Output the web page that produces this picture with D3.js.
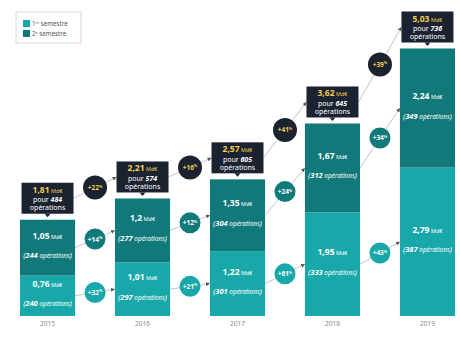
<!DOCTYPE html>
<html>
<head>
<meta charset="utf-8">
<script src="https://cdn.jsdelivr.net/npm/d3@7"></script>
<style>
  body { margin: 0; background: #fff; }
  svg { display: block; font-family: "Noto Sans", "Open Sans", sans-serif; }
</style>
</head>
<body>
<div id="chart-area"></div>
<script>
var years = ["2015", "2016", "2017", "2018", "2019"];
var sem1 = [0.76, 1.01, 1.22, 1.95, 2.79];
var sem2 = [1.05, 1.2, 1.35, 1.67, 2.24];
var totals = [1.81, 2.21, 2.57, 3.62, 5.03];
var ops1 = [240, 297, 301, 333, 387];
var ops2 = [244, 277, 304, 312, 349];
var opsTotal = [484, 574, 605, 645, 736];
var growthTotal = ["+22", "+16", "+41", "+39"];
var growth2 = ["+14", "+12", "+24", "+34"];
var growth1 = ["+32", "+21", "+61", "+43"];

var width = 460, height = 341;
var light = "#19a8a9", dark = "#12797b", navy = "#1b2230", gold = "#f2cd55";

var svg = d3.select("#chart-area")
    .append("svg")
        .attr("width", width)
        .attr("height", height);

svg.append("defs").append("marker")
    .attr("id", "arrow")
    .attr("viewBox", "0 0 10 10")
    .attr("refX", 10).attr("refY", 5)
    .attr("markerWidth", 5).attr("markerHeight", 5)
    .attr("orient", "auto")
  .append("path")
    .attr("d", "M0,0L10,5L0,10z")
    .attr("fill", "#555");

var x = d3.scaleBand()
    .domain(years)
    .range([20, 455])
    .paddingInner(0.42)
    .paddingOuter(0);

var y = d3.scaleLinear()
    .domain([0, 5.03])
    .range([316, 48.5]);

var bw = x.bandwidth();

var fmt = function(v) { return String(v).replace(".", ","); };

var rows = years.map(function(yr, i) {
    return { year: yr, s1: sem1[i], s2: sem2[i], total: totals[i],
             o1: ops1[i], o2: ops2[i], ot: opsTotal[i] };
});

// connectors (drawn first, under the circles)
var boxH = 31, boxW = 52;
function boxMid(d) { return y(d.total) - 6 - boxH / 2; }
function mid1(d) { return (y(0) + y(d.s1)) / 2; }
function mid2(d) { return (y(d.s1) + y(d.s1 + d.s2)) / 2; }

var links = [];
for (var i = 0; i < rows.length - 1; i++) {
    var a = rows[i], b = rows[i + 1];
    var cx = x(a.year) + bw / 2, nx = x(b.year) + bw / 2;
    links.push({ x1: cx + boxW / 2, y1: boxMid(a), x2: nx - boxW / 2, y2: boxMid(b),
                 label: growthTotal[i], fill: navy, r: 12, color: gold });
    links.push({ x1: x(a.year) + bw, y1: mid2(a), x2: x(b.year), y2: mid2(b),
                 label: growth2[i], fill: dark, r: 10.5, color: "#fff" });
    links.push({ x1: x(a.year) + bw, y1: mid1(a), x2: x(b.year), y2: mid1(b),
                 label: growth1[i], fill: light, r: 10.5, color: "#fff" });
}

svg.selectAll(".link")
    .data(links)
    .enter().append("line")
        .attr("class", "link")
        .attr("x1", function(d) { return d.x1; })
        .attr("y1", function(d) { return d.y1; })
        .attr("x2", function(d) { return d.x2; })
        .attr("y2", function(d) { return d.y2; })
        .attr("stroke", "#b5b5b5")
        .attr("stroke-width", 0.8)
        .attr("marker-end", "url(#arrow)");

var bubble = svg.selectAll(".bubble")
    .data(links)
    .enter().append("g")
        .attr("class", "bubble")
        .attr("transform", function(d) {
            return "translate(" + (d.x1 + d.x2) / 2 + "," + (d.y1 + d.y2) / 2 + ")";
        });

bubble.append("circle")
    .attr("r", function(d) { return d.r; })
    .attr("fill", function(d) { return d.fill; });

var bt = bubble.append("text")
    .attr("text-anchor", "middle")
    .attr("y", 2.5)
    .attr("fill", function(d) { return d.color; })
    .attr("font-size", "6.5px")
    .attr("font-weight", "bold");
bt.append("tspan").text(function(d) { return d.label; });
bt.append("tspan").attr("font-size", "3.8px").attr("dy", -2.5).text("%");

// bars
var bars = svg.selectAll(".bar")
    .data(rows)
    .enter().append("g")
        .attr("class", "bar");

bars.append("rect")
    .attr("x", function(d) { return x(d.year); })
    .attr("y", function(d) { return y(d.s1); })
    .attr("width", bw)
    .attr("height", function(d) { return y(0) - y(d.s1); })
    .attr("fill", light);

bars.append("rect")
    .attr("x", function(d) { return x(d.year); })
    .attr("y", function(d) { return y(d.s1 + d.s2); })
    .attr("width", bw)
    .attr("height", function(d) { return y(d.s1) - y(d.s1 + d.s2); })
    .attr("fill", dark);

function segLabels(midFn, valKey, opsKey) {
    var t = bars.append("text")
        .attr("text-anchor", "middle")
        .attr("x", function(d) { return x(d.year) + bw / 2; })
        .attr("y", function(d) { return midFn(d) - 9; })
        .attr("fill", "#fff")
        .attr("font-weight", "bold");
    t.append("tspan").attr("font-size", "8.5px").text(function(d) { return fmt(d[valKey]); });
    t.append("tspan").attr("font-size", "5.5px").attr("font-weight", "normal").text(" Md€");

    var o = bars.append("text")
        .attr("text-anchor", "middle")
        .attr("x", function(d) { return x(d.year) + bw / 2; })
        .attr("y", function(d) { return midFn(d) + 10.5; })
        .attr("fill", "#fff")
        .attr("font-style", "italic");
    o.append("tspan").attr("font-size", "7.5px").text("(");
    o.append("tspan").attr("font-size", "7.5px").attr("font-weight", "bold").text(function(d) { return d[opsKey]; });
    o.append("tspan").attr("font-size", "6.4px").text(" opérations");
    o.append("tspan").attr("font-size", "7.5px").text(")");
}
segLabels(mid2, "s2", "o2");
segLabels(mid1, "s1", "o1");

// total callouts
var box = bars.append("g")
    .attr("transform", function(d) {
        return "translate(" + (x(d.year) + bw / 2) + "," + (y(d.total) - 6 - boxH) + ")";
    });

box.append("rect")
    .attr("x", -boxW / 2)
    .attr("width", boxW)
    .attr("height", boxH)
    .attr("fill", navy);

box.append("path")
    .attr("d", "M-3," + boxH + "L3," + boxH + "L0," + (boxH + 3.5) + "Z")
    .attr("fill", navy);

var l1 = box.append("text")
    .attr("text-anchor", "middle")
    .attr("y", 10)
    .attr("fill", gold)
    .attr("font-weight", "bold");
l1.append("tspan").attr("font-size", "8.5px").text(function(d) { return fmt(d.total); });
l1.append("tspan").attr("font-size", "5.5px").attr("font-weight", "normal").text(" Md€");

var l2 = box.append("text")
    .attr("text-anchor", "middle")
    .attr("y", 19.5)
    .attr("fill", "#fff")
    .attr("font-size", "7px");
l2.append("tspan").text("pour ");
l2.append("tspan").attr("font-weight", "bold").attr("font-style", "italic").text(function(d) { return d.ot; });

box.append("text")
    .attr("text-anchor", "middle")
    .attr("y", 27.5)
    .attr("fill", "#fff")
    .attr("font-size", "7px")
    .text("opérations");

// x axis labels
var xAxisCall = d3.axisBottom(x).tickSize(0).tickPadding(5);
var xAxis = svg.append("g")
    .attr("transform", "translate(0," + y(0) + ")")
    .call(xAxisCall);
xAxis.select(".domain").remove();
xAxis.selectAll("text")
    .attr("fill", "#888")
    .attr("font-size", "6.5px")
    .attr("font-family", "'Noto Sans', sans-serif");

// legend
var legend = svg.append("g");
legend.append("rect")
    .attr("x", 16).attr("y", 12)
    .attr("width", 65).attr("height", 31)
    .attr("fill", "#fff")
    .attr("stroke", "#c8c8c8")
    .attr("stroke-width", 0.7);

var legItems = [
    { color: light, n: "1", sup: "er" },
    { color: dark, n: "2", sup: "e" }
];
var li = legend.selectAll(".leg")
    .data(legItems)
    .enter().append("g")
        .attr("transform", function(d, i) { return "translate(23," + (20 + i * 10) + ")"; });
li.append("rect")
    .attr("width", 7).attr("height", 7)
    .attr("fill", function(d) { return d.color; });
var lt = li.append("text")
    .attr("x", 9).attr("y", 6)
    .attr("font-size", "6.2px")
    .attr("fill", "#555");
lt.append("tspan").text(function(d) { return d.n; });
lt.append("tspan").attr("font-size", "3.8px").attr("dy", -2).text(function(d) { return d.sup; });
lt.append("tspan").attr("dy", 2).text(" semestre");
</script>
</body>
</html>
